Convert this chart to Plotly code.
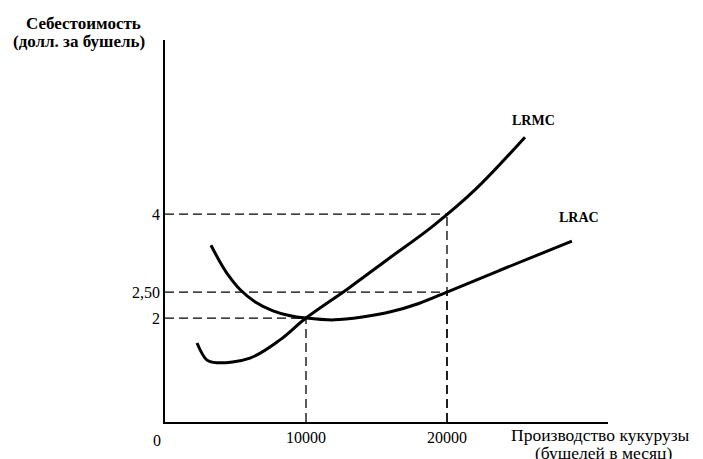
import plotly.graph_objects as go

# Data (quantity in bushels/month, cost in $/bushel)
lrac_x = [3260, 3900, 4500, 5320, 6400, 7660, 8800, 10000, 12000, 14000, 16000, 18000, 20000, 23760, 28860]
lrac_y = [3.40, 3.08, 2.82, 2.55, 2.31, 2.14, 2.05, 2.00, 1.965, 2.02, 2.12, 2.28, 2.50, 2.92, 3.48]

lrmc_x = [2270, 2980, 3690, 6030, 8160, 10000, 13000, 16000, 19000, 22000, 25530]
lrmc_y = [1.52, 1.19, 1.14, 1.23, 1.58, 2.00, 2.57, 3.17, 3.77, 4.47, 5.48]

y_ticks = [2, 2.5, 4]
y_tick_text = ["2", "2,50", "4"]
x_ticks = [10000, 20000]
x_tick_text = ["10000", "20000"]

# guide points (quantity, cost) for the dashed lines
guides = [(10000, 2.0), (20000, 2.5), (20000, 4.0)]

X_MAX = 31420
Y_MIN, Y_MAX = 0.0, 7.35

FONT = "Liberation Serif"

fig = go.Figure()
fig.add_trace(go.Scatter(x=lrac_x, y=lrac_y, mode="lines", name="LRAC",
                         line=dict(color="black", width=3, shape="spline", smoothing=1.0)))
fig.add_trace(go.Scatter(x=lrmc_x, y=lrmc_y, mode="lines", name="LRMC",
                         line=dict(color="black", width=3, shape="spline", smoothing=1.0)))

dash = dict(color="black", width=1.3, dash="9px,5px")
for qx, cy in guides:
    fig.add_shape(type="line", x0=0, x1=qx, y0=cy, y1=cy, line=dash, layer="below")
    fig.add_shape(type="line", x0=qx, x1=qx, y0=Y_MIN, y1=cy, line=dash, layer="below")

fig.add_annotation(x=0, y=Y_MIN, text="0", showarrow=False, xanchor="center", yanchor="top",
                   xshift=-8, yshift=-8, font=dict(family=FONT, size=16, color="black"))
fig.add_annotation(x=lrmc_x[-1], y=lrmc_y[-1], text="<b>LRMC</b>", showarrow=False,
                   xanchor="center", yanchor="middle",
                   xshift=9, yshift=17, font=dict(family=FONT, size=14, color="black"))
fig.add_annotation(x=lrac_x[-1], y=lrac_y[-1], text="<b>LRAC</b>", showarrow=False,
                   xanchor="center", yanchor="middle",
                   xshift=7, yshift=24, font=dict(family=FONT, size=14, color="black"))

fig.add_annotation(xref="paper", yref="paper", x=-0.183, y=1.044, text="<b>Себестоимость</b>",
                   showarrow=False, xanchor="center", yanchor="middle",
                   font=dict(family=FONT, size=17, color="black"))
fig.add_annotation(xref="paper", yref="paper", x=-0.194, y=0.995, text="<b>(долл. за бушель)</b>",
                   showarrow=False, xanchor="center", yanchor="middle",
                   font=dict(family=FONT, size=17, color="black"))
fig.add_annotation(xref="paper", yref="paper", x=1.0, y=-0.034, text="Производство кукурузы",
                   showarrow=False, xanchor="left", yanchor="middle",
                   font=dict(family=FONT, size=17.5, color="black"), xshift=-99)
fig.add_annotation(xref="paper", yref="paper", x=1.0, y=-0.082, text="(бушелей в месяц)",
                   showarrow=False, xanchor="left", yanchor="middle",
                   font=dict(family=FONT, size=17.5, color="black"), xshift=-75)

# page adds an 8px body margin, so the figure is 8px smaller than the window
fig.update_layout(
    width=695, height=451,
    margin=dict(l=157, r=95, t=32, b=37),
    paper_bgcolor="white", plot_bgcolor="white",
    showlegend=False,
    font=dict(family=FONT, color="black", size=16),
    xaxis=dict(range=[0, X_MAX], showgrid=False, zeroline=False,
               showline=True, linecolor="black", linewidth=1.5,
               tickvals=x_ticks, ticktext=x_tick_text, ticks="",
               tickfont=dict(family=FONT, size=16, color="black")),
    yaxis=dict(range=[Y_MIN, Y_MAX], showgrid=False, zeroline=False,
               showline=True, linecolor="black", linewidth=1.5,
               tickvals=y_ticks, ticktext=y_tick_text, ticks="",
               tickfont=dict(family=FONT, size=16, color="black")),
)

fig.write_html("out.html")
